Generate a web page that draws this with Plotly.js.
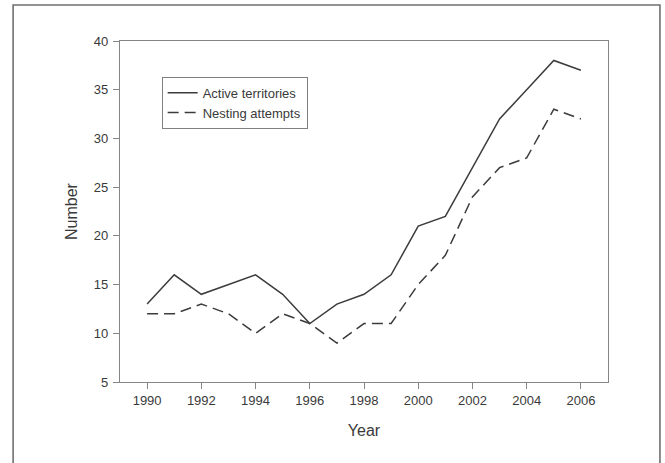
<!DOCTYPE html>
<html>
<head>
<meta charset="utf-8">
<script src="https://cdn.plot.ly/plotly-3.0.1.min.js"></script>
<style>html,body{margin:0;padding:0;background:#fff;}</style>
</head>
<body>
<div id="chart" style="width:665px;height:463px;"></div>
<script>
const years = [1990,1991,1992,1993,1994,1995,1996,1997,1998,1999,2000,2001,2002,2003,2004,2005,2006];
const activeTerritories = [13,16,14,15,16,14,11,13,14,16,21,22,27,32,35,38,37];
const nestingAttempts = [12,12,13,12,10,12,11,9,11,11,15,18,24,27,28,33,32];

const lineColor = '#3c3c3c';
const axisColor = '#858585';
const font = {family: '"Liberation Sans", Arial, sans-serif', size: 13, color: '#3a3a3a'};

const traces = [
  {x: years, y: activeTerritories, type: 'scatter', mode: 'lines', name: 'Active territories',
   line: {color: lineColor, width: 1.5}},
  {x: years, y: nestingAttempts, type: 'scatter', mode: 'lines', name: 'Nesting attempts',
   line: {color: lineColor, width: 1.5, dash: '11px,6px'}}
];

const W = 665, H = 463, ml = 120, mr = 56.5, mt = 41, mb = 81;
const pw = W - ml - mr, ph = H - mt - mb;

const layout = {
  width: W, height: H,
  margin: {l: ml, r: mr, t: mt, b: mb, pad: 0},
  paper_bgcolor: '#ffffff', plot_bgcolor: '#ffffff',
  font: font,
  showlegend: true,
  legend: {
    x: (161.7 - ml) / pw, y: (H - mb - 76.7) / ph, xanchor: 'left', yanchor: 'top',
    bordercolor: '#808080', borderwidth: 1, bgcolor: '#ffffff',
    font: {family: font.family, size: 13, color: '#3a3a3a'},
    tracegroupgap: 0, entrywidth: 155
  },
  xaxis: {
    range: [1989, 2007], tick0: 1990, dtick: 2, tickmode: 'linear',
    showgrid: false, zeroline: false,
    showline: true, linecolor: axisColor, linewidth: 1.2, mirror: true,
    ticks: 'outside', ticklen: 6, tickwidth: 1, tickcolor: axisColor,
    tickfont: {family: font.family, size: 13, color: '#3a3a3a'},
    title: {text: 'Year', font: {family: font.family, size: 16, color: '#3a3a3a'}, standoff: 18}
  },
  yaxis: {
    range: [5, 40], tick0: 5, dtick: 5, tickmode: 'linear',
    showgrid: false, zeroline: false,
    showline: true, linecolor: axisColor, linewidth: 1.2, mirror: true,
    ticks: 'outside', ticklen: 6, tickwidth: 1, tickcolor: axisColor,
    ticklabelstandoff: 2,
    tickfont: {family: font.family, size: 13, color: '#3a3a3a'},
    title: {text: 'Number', font: {family: font.family, size: 16, color: '#3a3a3a'}, standoff: 12}
  },
  shapes: [{
    type: 'rect', xref: 'paper', yref: 'paper', layer: 'below',
    x0: (13 - ml) / pw, x1: (660.5 - ml) / pw,
    y0: (H - mb - 480) / ph, y1: (H - mb - 5) / ph,
    line: {color: '#707070', width: 1.6}, fillcolor: 'rgba(0,0,0,0)'
  }]
};

Plotly.newPlot('chart', traces, layout, {displayModeBar: false, staticPlot: true});
</script>
</body>
</html>
